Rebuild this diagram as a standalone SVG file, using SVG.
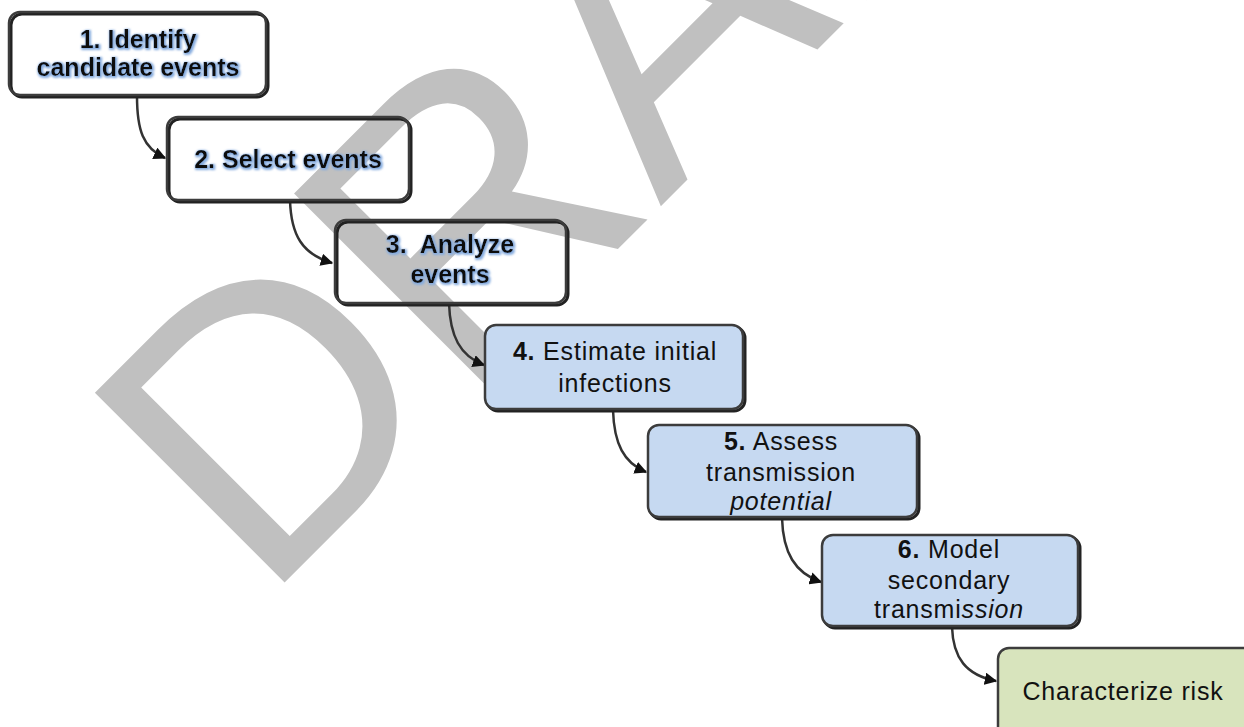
<svg xmlns="http://www.w3.org/2000/svg" width="1244" height="727" viewBox="0 0 1244 727">
<defs>
<style>
.box{stroke:#3c3c3c;stroke-width:2.5}
.shadow{fill:none;stroke:#222;stroke-width:3}
.open{fill:none}
.blue{fill:#c6d9f1}
.green{fill:#d8e4bd}
.t{font-family:"Liberation Sans",Arial,sans-serif;font-size:25px;fill:#111;text-anchor:middle}
.bt{font-weight:bold;filter:url(#glow)}
.rt{letter-spacing:0.8px}
.conn{fill:none;stroke:#333;stroke-width:2.5}
</style>
<filter id="glow" x="-10%" y="-30%" width="120%" height="160%">
<feMorphology in="SourceAlpha" operator="dilate" radius="1" result="d"/>
<feOffset in="d" dx="1" dy="1" result="o"/>
<feGaussianBlur in="o" stdDeviation="1" result="b"/>
<feFlood flood-color="#86acdf"/>
<feComposite in2="b" operator="in" result="g"/>
<feMerge><feMergeNode in="g"/><feMergeNode in="SourceGraphic"/></feMerge>
</filter>
<marker id="arr" viewBox="0 0 10 10" refX="9" refY="5" markerWidth="5" markerHeight="5" orient="auto" markerUnits="strokeWidth">
<path d="M0,0 L10,5 L0,10 z" fill="#111"/>
</marker>
</defs>
<rect width="1244" height="727" fill="#fff"/>
<text id="watermark" x="262" y="605" transform="rotate(-45 262 605)" font-family="Liberation Sans, Arial, sans-serif" font-size="390" fill="#c0c0c0">DRAFT</text>

<g id="connectors">
<path class="conn" d="M137,96 C137,130 143,148 165,158" marker-end="url(#arr)"/>
<path class="conn" d="M290,200 C291,235 302,254 332,263" marker-end="url(#arr)"/>
<path class="conn" d="M449,303 C450,336 460,356 484,365" marker-end="url(#arr)"/>
<path class="conn" d="M613,410 C614,444 624,463 646,472" marker-end="url(#arr)"/>
<path class="conn" d="M782,518 C783,553 795,573 821,582" marker-end="url(#arr)"/>
<path class="conn" d="M952,627 C953,658 966,675 996,681" marker-end="url(#arr)"/>
</g>

<g id="node1">
<rect class="shadow" x="11" y="14" width="257" height="83" rx="11"/>
<rect class="box open" x="9" y="12" width="257" height="83" rx="11"/>
<text class="t bt" x="138" y="48">1. Identify</text>
<text class="t bt" x="138" y="76">candidate events</text>
</g>
<g id="node2">
<rect class="shadow" x="169" y="119" width="242" height="83" rx="11"/>
<rect class="box open" x="167" y="117" width="242" height="83" rx="11"/>
<text class="t bt" x="288" y="168">2. Select events</text>
</g>
<g id="node3">
<rect class="shadow" x="337" y="222" width="231" height="83" rx="11"/>
<rect class="box open" x="335" y="220" width="231" height="83" rx="11"/>
<text class="t bt" x="450" y="253" xml:space="preserve">3.  Analyze</text>
<text class="t bt" x="450" y="283">events</text>
</g>
<g id="node4">
<rect class="shadow" x="487" y="327" width="258" height="84" rx="11"/>
<rect class="box blue" x="485" y="325" width="258" height="84" rx="11"/>
<text class="t rt" x="615" y="360"><tspan font-weight="bold">4.</tspan> Estimate initial</text>
<text class="t rt" x="615" y="392">infections</text>
</g>
<g id="node5">
<rect class="shadow" x="650" y="427" width="269" height="92" rx="11"/>
<rect class="box blue" x="648" y="425" width="269" height="92" rx="11"/>
<text class="t rt" x="781" y="450"><tspan font-weight="bold">5.</tspan> Assess</text>
<text class="t rt" x="781" y="481">transmission</text>
<text class="t rt" x="781" y="510" font-style="italic">potential</text>
</g>
<g id="node6">
<rect class="shadow" x="824" y="537" width="256" height="91" rx="11"/>
<rect class="box blue" x="822" y="535" width="256" height="91" rx="11"/>
<text class="t rt" x="949" y="558"><tspan font-weight="bold">6.</tspan> Model</text>
<text class="t rt" x="949" y="589">secondary</text>
<text class="t rt" x="949" y="618"><tspan>transmi</tspan><tspan font-style="italic">ssion</tspan></text>
</g>
<g id="node7">
<rect class="shadow" x="1000" y="650" width="260" height="90" rx="11"/>
<rect class="box green" x="998" y="648" width="260" height="90" rx="11"/>
<text class="t rt" x="1123" y="700">Characterize risk</text>
</g>
</svg>
